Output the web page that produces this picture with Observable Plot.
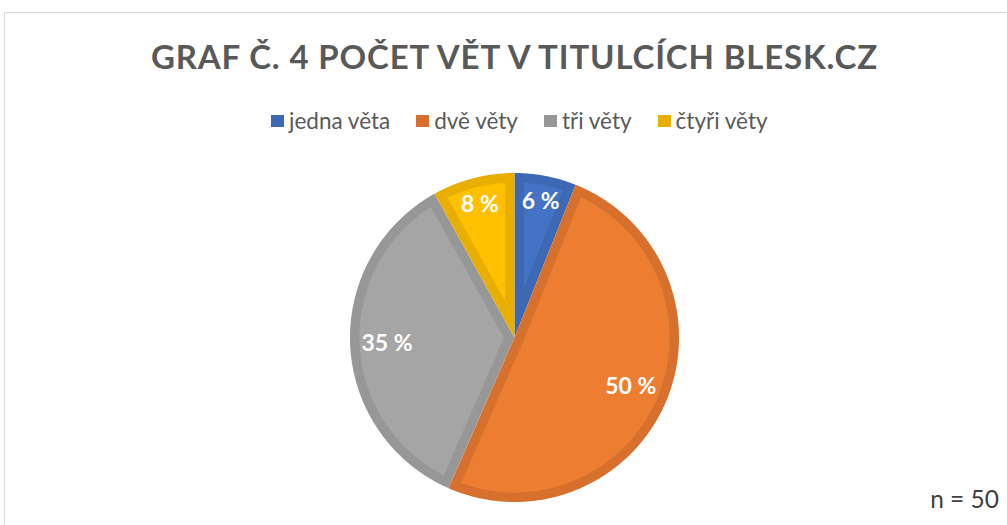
<!DOCTYPE html>
<html>
<head>
<meta charset="utf-8">
<script src="https://cdn.jsdelivr.net/npm/d3@7"></script>
<script src="https://cdn.jsdelivr.net/npm/@observablehq/plot@0.6"></script>
<style>
  html, body { margin: 0; padding: 0; background: #fff; }
  #wrap { position: relative; width: 1007px; height: 525px; overflow: hidden; background: #fff; font-family: Lato, "Open Sans", sans-serif; }
  #chart { position: absolute; left: 0; top: 0; }
  #frame { position: absolute; left: 4px; top: 12px; width: 1100px; height: 700px; border: 1px solid #d9d9d9; box-sizing: border-box; pointer-events: none; }
  #title { position: absolute; left: 0; top: 37px; width: 1029px; text-align: center; font-weight: 700; font-size: 33px; letter-spacing: 0.85px; color: #595959; line-height: 38px; white-space: nowrap; }
  #legend { position: absolute; left: 271px; top: 106px; display: flex; align-items: center; font-size: 22.5px; color: #595959; line-height: 30px; white-space: nowrap; }
  .item { display: flex; align-items: center; margin-right: 26px; }
  .sw { width: 13px; height: 12px; margin-right: 5px; }
  #note { position: absolute; right: 8px; top: 484px; font-size: 24.5px; color: #404040; line-height: 30px; }
</style>
</head>
<body>
<div id="wrap">
  <div id="chart"></div>
  <div id="frame"></div>
  <div id="title"></div>
  <div id="legend"></div>
  <div id="note"></div>
</div>
<script>
// ---- data ----
const titleText = "GRAF Č. 4 POČET VĚT V TITULCÍCH BLESK.CZ";
const categories = ["jedna věta", "dvě věty", "tři věty", "čtyři věty"];
const percents = [6, 50, 35, 8];
const labels = percents.map(p => `${p} %`);
const fillColors = ["#4472C4", "#ED7D31", "#A5A5A5", "#FFC000"];
const edgeColors = ["#3D68B4", "#D8702D", "#979797", "#E8AE00"];
const noteText = "n = 50";

// ---- layout ----
const W = 1007, H = 525;
const cx = 514, cy = 337, R = 164.5, band = 9.5;
const FONT = "Lato, 'Open Sans', sans-serif";

document.getElementById("title").textContent = titleText;
document.getElementById("note").textContent = noteText;
const legend = document.getElementById("legend");
categories.forEach((c, i) => {
  const it = document.createElement("div");
  it.className = "item";
  const sw = document.createElement("div");
  sw.className = "sw";
  sw.style.background = edgeColors[i];
  const tx = document.createElement("span");
  tx.textContent = c;
  it.appendChild(sw); it.appendChild(tx);
  legend.appendChild(it);
});

const arcs = d3.pie().sort(null).value(d => d)(percents);
const step = Math.PI / 360;
const outer = [], inner = [], labelData = [];
arcs.forEach((a, i) => {
  const a0 = a.startAngle, a1 = a.endAngle;
  outer.push({k: i, x: 0, y: 0});
  for (let t = a0; t < a1; t += step) outer.push({k: i, x: R * Math.sin(t), y: -R * Math.cos(t)});
  outer.push({k: i, x: R * Math.sin(a1), y: -R * Math.cos(a1)});
  const m = (a0 + a1) / 2;
  const dA = band / Math.sin((a1 - a0) / 2);
  inner.push({k: i, x: dA * Math.sin(m), y: -dA * Math.cos(m)});
  const r2 = R - band, off = Math.asin(band / r2);
  for (let t = a0 + off; t < a1 - off; t += step) inner.push({k: i, x: r2 * Math.sin(t), y: -r2 * Math.cos(t)});
  inner.push({k: i, x: r2 * Math.sin(a1 - off), y: -r2 * Math.cos(a1 - off)});
  // inside-end label placement
  const w = 11.7 * labels[i].length, h = 20;
  const rl = R - 13 - (Math.abs(Math.sin(m)) * w / 2 + Math.abs(Math.cos(m)) * h / 2);
  labelData.push({x: rl * Math.sin(m), y: -rl * Math.cos(m), text: labels[i]});
});

const marks = [];
categories.forEach((c, i) => {
  marks.push(Plot.line(outer.filter(d => d.k === i), {x: "x", y: "y", fill: edgeColors[i], stroke: "none", curve: "linear-closed"}));
  marks.push(Plot.line(inner.filter(d => d.k === i), {x: "x", y: "y", fill: fillColors[i], stroke: "none", curve: "linear-closed"}));
});
marks.push(Plot.text(labelData, {x: "x", y: "y", text: "text", fill: "white", fontSize: 23, fontWeight: "bold", fontFamily: FONT, textAnchor: "middle", lineAnchor: "middle"}));

const plot = Plot.plot({
  width: W, height: H,
  marginTop: 0, marginRight: 0, marginBottom: 0, marginLeft: 0,
  x: {domain: [-cx, W - cx], range: [0, W], axis: null},
  y: {domain: [-cy, H - cy], range: [0, H], axis: null},
  style: {background: "none"},
  marks
});
document.getElementById("chart").appendChild(plot);
</script>
</body>
</html>
